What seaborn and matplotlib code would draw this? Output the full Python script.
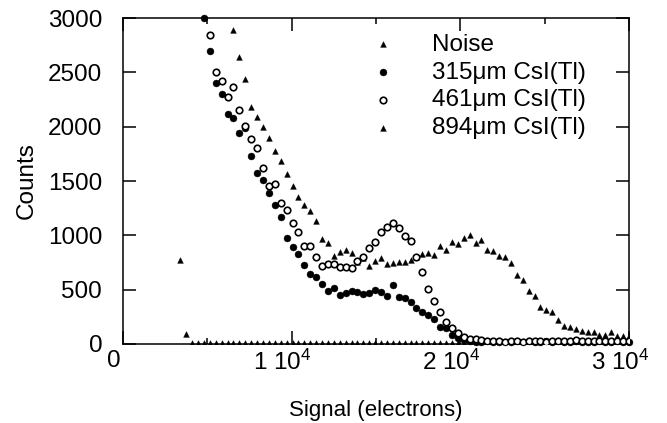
import numpy as np
import pandas as pd
import matplotlib
matplotlib.use("Agg")
import matplotlib.pyplot as plt
import matplotlib.transforms as mtransforms
from matplotlib.ticker import FixedLocator, FixedFormatter, MultipleLocator
import seaborn as sns

# ---------------- data ----------------
bin_start = 4800      # electrons, first bin of the 315um series
bin_width = 350       # electrons per bin

labels = ["Noise", "315\u03bcm CsI(Tl)", "461\u03bcm CsI(Tl)", "894\u03bcm CsI(Tl)"]

# first bin index (relative to bin_start) of each series
noise_first = -4
c315_first = 0
c461_first = 1
c894_first = 5

noise_counts = [773, 92,
                10, 8, 11, 7, 9, 10, 8, 12, 9, 7, 10, 8, 11, 9, 8, 10, 7, 9, 11, 8,
                10, 9, 7, 10, 8, 11, 9, 10, 8, 7, 10, 9, 11, 8, 9, 10, 7, 9, 8, 10,
                11, 9, 8, 10, 7, 9, 10, 8, 11, 9, 8, 10, 9, 7, 10, 8, 11, 9, 10, 8,
                9, 7, 10, 8, 11, 9, 10, 8, 9, 10, 8, 9, 10]

c315_counts = [3000, 2700, 2405, 2300, 2117, 2077, 1942, 1985, 1733, 1571,
               1506, 1387, 1279, 1166, 973, 895, 828, 727, 644, 614,
               552, 490, 511, 454, 472, 490, 476, 460, 472, 497,
               476, 446, 540, 431, 421, 387, 329, 292, 264, 227,
               156, 147, 86, 52,
               35, 28, 22, 18, 25, 15, 20, 22, 18, 25,
               20, 28, 22, 18, 24, 20, 26, 22, 18, 25,
               20, 16, 22, 25, 18, 20, 24, 18, 22]

c461_counts = [2843, 2506, 2423, 2270, 2362, 2153, 2006, 1888, 1806, 1622,
               1457, 1470, 1300, 1233, 1116, 1028, 905, 905, 798, 721,
               736, 733, 706, 711, 702, 764, 803, 886, 941, 1028,
               1079, 1111, 1070, 994, 951, 803, 665, 503, 396, 292,
               200, 144, 98, 67, 50, 43, 37,
               30, 25, 28, 22, 30, 25, 20, 28, 24, 30,
               22, 26, 30, 24, 28, 35, 30, 25, 28, 32,
               24, 30, 26, 28, 30]

c894_counts = [2890, 2638, 2441, 2178, 2092, 1994, 1893, 1776, 1684, 1564,
               1457, 1350, 1279, 1221, 1134, 962, 932, 807, 847, 865,
               835, 755, 790, 722, 761, 793, 739, 747, 753, 757,
               770, 800, 826, 839, 816, 905, 865, 936, 920, 980,
               1003, 932, 960, 868, 856, 807, 805, 741, 635, 589,
               485, 444, 343, 313, 290, 224, 170, 154, 141, 118,
               106, 113, 86, 83, 108, 78, 72, 78]

xtick_values = [0, 10000, 20000, 30000]
xtick_labels = ["0", "1 10$^{4}$", "2 10$^{4}$", "3 10$^{4}$"]
ytick_values = [0, 500, 1000, 1500, 2000, 2500, 3000]


def bins(first, counts):
    return bin_start + bin_width * (first + np.arange(len(counts)))


# ---------------- style ----------------
sns.set_theme(style="ticks")
plt.rcParams['font.family'] = ['Liberation Sans', 'DejaVu Sans']
plt.rcParams['mathtext.fontset'] = 'custom'
plt.rcParams['mathtext.rm'] = 'Liberation Sans'
plt.rcParams['mathtext.it'] = 'Liberation Sans:italic'
plt.rcParams['mathtext.bf'] = 'Liberation Sans:bold'

FS = 17.5
fig = plt.figure(figsize=(6.67, 4.23), dpi=100)
ax = fig.add_axes([123 / 667, 1 - 344 / 423, 506 / 667, 326 / 423])

# noise
sns.scatterplot(x=bins(noise_first, noise_counts), y=noise_counts, ax=ax,
                marker="^", s=17, color="black", edgecolor="black", linewidth=0.3,
                label=labels[0], zorder=3)
# 315 um (filled circles)
sns.scatterplot(x=bins(c315_first, c315_counts), y=c315_counts, ax=ax,
                marker="o", s=25, color="black", edgecolor="black", linewidth=0.3,
                label=labels[1], zorder=4, clip_on=False)
# 461 um (open circles)
sns.scatterplot(x=bins(c461_first, c461_counts), y=c461_counts, ax=ax,
                marker="o", s=22, facecolor="white", edgecolor="black", linewidth=1.2,
                label=labels[2], zorder=5)
# 894 um (triangles)
sns.scatterplot(x=bins(c894_first, c894_counts), y=c894_counts, ax=ax,
                marker="^", s=17, color="black", edgecolor="black", linewidth=0.3,
                label=labels[3], zorder=3)

ax.set_xlim(0, 30000)
ax.set_ylim(0, 3000)

ax.xaxis.set_major_locator(FixedLocator(xtick_values))
ax.xaxis.set_major_formatter(FixedFormatter(xtick_labels))
ax.xaxis.set_minor_locator(MultipleLocator(5000))
ax.yaxis.set_major_locator(FixedLocator(ytick_values))
ax.yaxis.set_minor_locator(FixedLocator([]))

for side in ["left", "right", "top", "bottom"]:
    ax.spines[side].set_visible(True)
    ax.spines[side].set_linewidth(1.1)
    ax.spines[side].set_color("black")

ax.tick_params(which="major", direction="in", length=9.5, width=1.1, color="black",
               top=True, right=True, labelsize=FS, labelcolor="black")
ax.tick_params(which="minor", direction="in", length=4, width=1.1, color="black",
               top=True, right=True)
ax.tick_params(axis="y", which="major", pad=15)
ax.tick_params(axis="x", which="major", pad=4)

for lbl in ax.get_xticklabels():
    lbl.set_transform(lbl.get_transform() +
                      mtransforms.ScaledTranslation(-9 / 100, 0, fig.dpi_scale_trans))

ax.set_xlabel("Signal (electrons)", fontsize=16, color="black", labelpad=18)
ax.set_ylabel("Counts", fontsize=17.5, color="black", labelpad=7)

leg = ax.legend(loc="upper left", bbox_to_anchor=(0.49, 0.952), frameon=False,
                fontsize=FS, handlelength=1.0, handletextpad=1.5,
                labelspacing=0.24, borderpad=0, borderaxespad=0)
for t in leg.get_texts():
    t.set_color("black")

fig.savefig("out.png", dpi=100, facecolor="white")
